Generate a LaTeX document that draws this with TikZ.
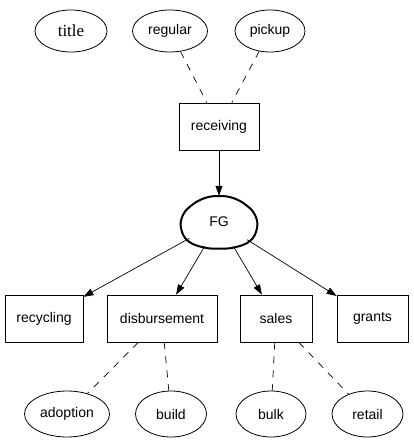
\documentclass[tikz,border=0pt]{standalone}
\usepackage{fontspec}
\setmainfont{Liberation Sans}
\newfontfamily\serifttl{Liberation Serif}
\usetikzlibrary{shapes.geometric,arrows.meta}
\begin{document}
\begin{tikzpicture}[x=1pt,y=-1pt,
  lbl/.style={font=\fontsize{14}{16}\selectfont, inner sep=0pt},
  oval/.style={lbl, draw, ellipse, line width=0.8pt},
  boxn/.style={lbl, draw, rectangle, line width=0.8pt},
  arr/.style={line width=0.7pt, -{Triangle[length=10pt,width=7pt]}},
  dsh/.style={line width=0.7pt, dash pattern=on 7pt off 7pt}]
\useasboundingbox (0,0) rectangle (413,443);
% top row
\node[oval, minimum width=72pt, minimum height=42pt, font=\serifttl\fontsize{17}{19}\selectfont] (title) at (71,31) {title};
\node[oval, minimum width=75pt, minimum height=42pt] (regular) at (170,31) {regular};
\node[oval, minimum width=70pt, minimum height=42pt] (pickup) at (270,31) {pickup};
% receiving
\node[boxn, minimum width=80pt, minimum height=47pt] (receiving) at (219,126.5) {receiving};
% FG
\node[lbl, ellipse, minimum width=76pt, minimum height=52pt] (FG) at (219,222) {FG};
\draw[line width=2pt, line join=round] plot[smooth cycle, tension=0.7] coordinates {
  (219,196) (233,198) (246,205) (255,215) (257,228) (250,241) (234,247.5) (219,248.5)
  (204,247.5) (188,241) (181,228) (183,215) (192,205) (205,198)};
% middle row
\node[boxn, minimum width=78pt, minimum height=47pt] (recycling) at (44,318.5) {recycling};
\node[boxn, minimum width=110pt, minimum height=47pt] (disbursement) at (162,318.5) {disbursement};
\node[boxn, minimum width=72pt, minimum height=47pt] (sales) at (276,318.5) {sales};
\node[boxn, minimum width=71pt, minimum height=47pt] (grants) at (372.5,318.5) {grants};
% bottom row
\node[oval, minimum width=85pt, minimum height=46pt] (adoption) at (67,414) {adoption};
\node[oval, minimum width=71pt, minimum height=46pt] (build) at (171,414) {build};
\node[oval, minimum width=70pt, minimum height=46pt] (bulk) at (271,414) {bulk};
\node[oval, minimum width=71pt, minimum height=46pt] (retail) at (367.5,414) {retail};
% edges
\draw[dsh] (regular) -- (receiving);
\draw[dsh] (pickup) -- (receiving);
\draw[arr] (receiving) -- (FG);
\draw[arr] (FG) -- (recycling);
\draw[arr] (FG) -- (disbursement);
\draw[arr] (FG) -- (sales);
\draw[arr] (FG) -- (grants);
\draw[dsh] (disbursement) -- (adoption);
\draw[dsh] (disbursement) -- (build);
\draw[dsh] (sales) -- (bulk);
\draw[dsh] (sales) -- (retail);
\end{tikzpicture}
\end{document}
